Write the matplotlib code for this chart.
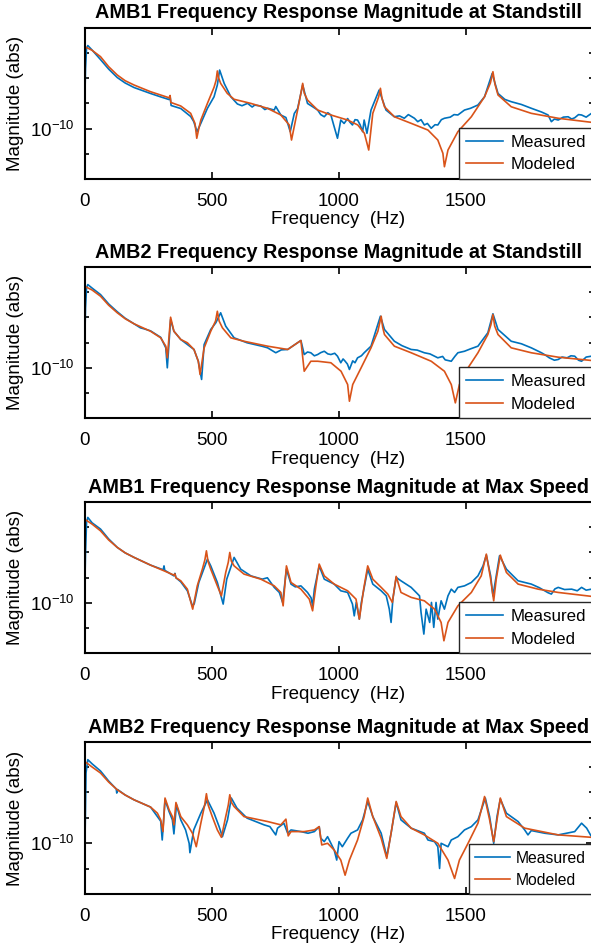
import numpy as np
import matplotlib
matplotlib.use("Agg")
import matplotlib.pyplot as plt
from matplotlib.ticker import FixedLocator, NullFormatter

plt.rcParams['font.family'] = ['Liberation Sans', 'DejaVu Sans']
plt.rcParams['mathtext.fontset'] = 'custom'
plt.rcParams['mathtext.rm'] = 'Liberation Sans'
plt.rcParams['mathtext.it'] = 'Liberation Sans'

# ---- data: (frequency Hz, log10(magnitude / 1e-10)) ----
amb1_ss_meas = [(0, 0.107), (4, 0.474), (8, 0.632), (13, 0.656), (30, 0.620), (63, 0.545), (95, 0.470),
                (129, 0.403), (160, 0.360), (195, 0.324), (260, 0.277), (300, 0.250), (333, 0.229), (337, 0.253),
                (341, 0.182), (379, 0.158),
                (418, 0.095), (430, 0.055), (443, -0.025), (458, 0.041), (484, 0.160), (510, 0.251), (523, 0.344),
                (532, 0.462), (550, 0.356), (576, 0.251), (602, 0.194), (620, 0.180), (642, 0.199), (660, 0.170),
                (670, 0.185), (694, 0.178), (710, 0.150), (721, 0.160), (747, 0.146), (753, 0.174), (773, 0.107),
                (793, 0.087), (810, -0.025), (826, 0.119), (839, 0.158), (859, 0.344), (878, 0.198), (900, 0.170),
                (918, 0.146), (930, 0.110), (944, 0.093), (958, 0.125), (970, 0.107), (983, 0.014), (996, -0.077),
                (1009, 0.067), (1022, 0.040), (1036, 0.079), (1045, 0.050), (1055, 0.028), (1065, 0.070),
                (1075, 0.067), (1085, 0.030), (1095, -0.025), (1101, 0.067), (1112, -0.038), (1128, 0.146),
                (1160, 0.304), (1187, 0.146), (1220, 0.093), (1240, 0.100), (1259, 0.081), (1275, 0.110),
                (1299, 0.081), (1312, 0.054), (1325, 0.070), (1338, 0.028), (1350, 0.040), (1365, 0.002),
                (1380, 0.030), (1391, 0.028), (1405, 0.070), (1417, 0.081), (1440, 0.090), (1455, 0.110),
                (1470, 0.107), (1496, 0.146), (1520, 0.160), (1549, 0.186), (1575, 0.251), (1605, 0.435),
                (1628, 0.277), (1655, 0.230), (1680, 0.212), (1720, 0.190), (1759, 0.160), (1800, 0.130),
                (1825, 0.107), (1838, 0.054), (1850, 0.075), (1865, 0.067), (1885, 0.090), (1904, 0.093),
                (1918, 0.075), (1930, 0.085), (1945, 0.110), (1957, 0.107), (1975, 0.090), (1996, 0.120)]
amb1_ss_mod = [(0, 0.647), (13, 0.635), (30, 0.618), (63, 0.568), (95, 0.489), (129, 0.423), (160, 0.378),
               (195, 0.344), (260, 0.291),
               (333, 0.243), (337, 0.261), (340, 0.206), (379, 0.178), (418, 0.120), (435, 0.040), (442, -0.077),
               (450, 0.0), (458, 0.067), (484, 0.199), (510, 0.326), (518, 0.380), (523, 0.455), (528, 0.400),
               (536, 0.357), (562, 0.278),
               (589, 0.231), (654, 0.199), (720, 0.160), (773, 0.107), (806, 0.028), (815, -0.091), (839, 0.146),
               (852, 0.280), (859, 0.357), (865, 0.280), (878, 0.225), (918, 0.146), (970, 0.107), (1036, 0.067),
               (1076, 0.028),
               (1102, -0.038), (1119, -0.170), (1135, 0.120), (1158, 0.250), (1165, 0.318), (1171, 0.240),
               (1181, 0.172), (1220, 0.093),
               (1286, 0.041), (1352, -0.012), (1391, -0.091), (1411, -0.196), (1417, -0.302), (1431, -0.170),
               (1470, -0.025), (1523, 0.093), (1575, 0.251), (1598, 0.360), (1608, 0.449), (1616, 0.350),
               (1628, 0.265), (1680, 0.172),
               (1759, 0.120), (1865, 0.081), (1996, 0.049)]

amb2_ss_meas = [(0, 0.119), (4, 0.474), (8, 0.632), (13, 0.658), (30, 0.630), (63, 0.579), (95, 0.505),
                (129, 0.443), (160, 0.392),
                (195, 0.348), (220, 0.316), (235, 0.308), (260, 0.292), (300, 0.241), (320, 0.158), (326, 0.0),
                (339, 0.382), (352, 0.289), (379, 0.224), (431, 0.145), (448, 0.052), (461, -0.092), (471, 0.184),
                (497, 0.303), (517, 0.356), (536, 0.435), (556, 0.329), (589, 0.237), (640, 0.198), (700, 0.170),
                (721, 0.158), (753, 0.119), (775, 0.142), (800, 0.145), (852, 0.216), (865, 0.105), (878, 0.125),
                (891, 0.119), (905, 0.095), (918, 0.105), (930, 0.120), (944, 0.131), (958, 0.110), (970, 0.105),
                (985, 0.115), (996, 0.092), (1009, 0.040), (1018, 0.070), (1025, 0.055), (1035, 0.030),
                (1043, -0.013), (1056, 0.055), (1065, 0.040), (1075, 0.079), (1090, 0.095), (1101, 0.119),
                (1128, 0.171), (1165, 0.408), (1181, 0.303), (1220, 0.210), (1250, 0.175), (1286, 0.145),
                (1310, 0.140), (1338, 0.119), (1360, 0.110), (1391, 0.079), (1410, 0.090), (1420, 0.063),
                (1444, 0.052), (1458, 0.090), (1470, 0.119), (1496, 0.131), (1520, 0.150), (1549, 0.171),
                (1588, 0.277), (1608, 0.427), (1628, 0.303), (1680, 0.210), (1720, 0.190), (1759, 0.158),
                (1799, 0.119), (1815, 0.100), (1830, 0.079), (1850, 0.060), (1865, 0.066), (1880, 0.085),
                (1900, 0.079), (1915, 0.095), (1930, 0.092), (1945, 0.060), (1957, 0.052), (1975, 0.085),
                (1996, 0.092)]
amb2_ss_mod = [(0, 0.645), (30, 0.615), (63, 0.566), (95, 0.495), (129, 0.435), (160, 0.388), (195, 0.348),
               (260, 0.289), (300, 0.237),
               (320, 0.171), (326, 0.079), (339, 0.400), (352, 0.289), (379, 0.224), (405, 0.198), (431, 0.145),
               (448, 0.052), (455, -0.053), (471, 0.158), (497, 0.289), (516, 0.370), (523, 0.447), (530, 0.370),
               (543, 0.316), (576, 0.237),
               (628, 0.210), (721, 0.171), (800, 0.145), (852, 0.216), (865, -0.027), (891, 0.052), (918, 0.052),
               (970, 0.040), (1010, -0.027), (1036, -0.132), (1043, -0.264), (1056, -0.132), (1089, 0.0),
               (1128, 0.158), (1155, 0.289), (1168, 0.408), (1174, 0.320), (1181, 0.263), (1220, 0.171),
               (1286, 0.119),
               (1365, 0.052), (1417, -0.027), (1444, -0.132), (1460, -0.277), (1476, -0.132), (1510, 0.0),
               (1549, 0.119), (1588, 0.263), (1600, 0.340), (1608, 0.421), (1615, 0.330), (1628, 0.263),
               (1680, 0.158), (1759, 0.119),
               (1865, 0.084), (1996, 0.058)]

amb1_max_meas = [(0, 0.003), (4, 0.395), (8, 0.632), (13, 0.675), (30, 0.632), (63, 0.583), (95, 0.505),
                 (129, 0.438), (160, 0.395),
                 (195, 0.359), (260, 0.298), (310, 0.261), (313, 0.292), (316, 0.257), (352, 0.213), (356, 0.233),
                 (360, 0.198), (379, 0.166), (405, 0.095), (425, -0.024), (432, -0.008), (450, 0.161),
                 (484, 0.345), (497, 0.292), (523, 0.161), (546, -0.010), (560, 0.187), (589, 0.359),
                 (615, 0.266), (655, 0.213), (700, 0.187), (720, 0.198), (747, 0.122), (767, 0.082),
                 (780, 0.003), (795, 0.266), (813, 0.148), (830, 0.126), (852, 0.134), (878, 0.082),
                 (892, 0.040), (898, -0.024), (905, 0.108), (924, 0.292), (944, 0.187), (983, 0.148),
                 (1009, 0.095), (1036, 0.082), (1055, -0.010), (1062, -0.103), (1070, 0.003), (1082, -0.129),
                 (1090, 0.003), (1115, 0.266), (1135, 0.148), (1168, 0.095), (1188, 0.055), (1200, -0.050),
                 (1207, -0.155), (1214, 0.029), (1227, 0.201), (1246, 0.174), (1286, 0.122), (1319, 0.055),
                 (1325, -0.076), (1336, -0.247), (1345, -0.050), (1359, -0.155), (1366, 0.003), (1375, -0.194),
                 (1384, 0.003), (1391, -0.129), (1404, 0.016), (1417, -0.050), (1431, 0.055), (1444, 0.108),
                 (1457, 0.082), (1470, 0.122), (1496, 0.134), (1523, 0.161), (1549, 0.213), (1569, 0.292),
                 (1582, 0.377), (1599, 0.213), (1608, 0.055), (1621, 0.213), (1634, 0.372), (1661, 0.266),
                 (1707, 0.174), (1759, 0.148), (1790, 0.120), (1812, 0.095), (1825, 0.080), (1838, 0.069),
                 (1852, 0.110), (1865, 0.122), (1890, 0.105), (1918, 0.108), (1940, 0.095), (1957, 0.122),
                 (1975, 0.100), (1996, 0.108)]
amb1_max_mod = [(0, 0.662), (30, 0.622), (63, 0.569), (95, 0.497), (129, 0.438), (160, 0.395), (195, 0.359),
                (260, 0.298), (313, 0.253),
                (352, 0.219), (356, 0.229), (360, 0.198), (379, 0.174), (405, 0.108), (426, -0.050), (444, 0.134),
                (464, 0.266), (474, 0.340), (480, 0.411), (486, 0.330), (497, 0.266), (523, 0.134), (539, 0.055),
                (556, 0.240), (566, 0.320), (572, 0.398),
                (578, 0.330), (589, 0.292), (628, 0.227), (694, 0.187), (747, 0.134), (773, 0.082), (782, -0.024),
                (795, 0.292),
                (813, 0.161), (852, 0.108), (885, 0.029), (898, -0.063), (911, 0.134), (924, 0.306), (944, 0.213),
                (983, 0.148), (1036, 0.095), (1069, 0.029), (1082, -0.129), (1099, 0.108), (1115, 0.292),
                (1135, 0.187), (1168, 0.122), (1194, 0.069), (1212, 0.003), (1227, 0.209), (1246, 0.082),
                (1286, 0.043), (1338, 0.016), (1378, -0.050), (1404, -0.155), (1415, -0.300), (1431, -0.155),
                (1470, -0.024), (1523, 0.082), (1562, 0.213), (1582, 0.385), (1599, 0.187), (1611, 0.016),
                (1621, 0.187), (1637, 0.377), (1661, 0.240), (1707, 0.148), (1786, 0.108), (1865, 0.082),
                (1996, 0.051)]

amb2_max_meas = [(0, -0.237), (3, 0.158), (6, 0.553), (13, 0.658), (30, 0.625), (63, 0.569), (95, 0.490),
                 (125, 0.427),
                 (127, 0.395), (130, 0.423), (160, 0.380), (195, 0.342), (260, 0.285), (300, 0.174), (306, 0.026),
                 (317, 0.342),
                 (333, 0.249), (346, 0.184), (352, 0.074), (362, 0.303), (379, 0.184), (398, 0.105), (412, 0.0),
                 (415, -0.074), (430, 0.105), (458, 0.237), (484, 0.342), (510, 0.237), (530, 0.131), (543, 0.052),
                 (563, 0.184), (578, 0.356), (600, 0.277), (640, 0.198), (707, 0.145), (730, 0.131), (753, 0.066),
                 (760, 0.119), (785, 0.158), (800, 0.079), (813, 0.105), (852, 0.092), (880, 0.079), (905, 0.092),
                 (924, 0.131), (930, 0.040), (944, 0.013), (957, 0.052), (970, 0.0), (983, -0.053), (993, -0.132),
                 (1002, 0.013), (1015, -0.027), (1036, 0.040), (1049, 0.079), (1075, 0.105), (1095, 0.184),
                 (1115, 0.329), (1135, 0.210), (1168, 0.079), (1190, -0.106), (1207, 0.079), (1227, 0.321),
                 (1246, 0.184), (1286, 0.119), (1338, 0.079), (1352, 0.026), (1378, 0.013), (1391, -0.027),
                 (1398, -0.198), (1404, 0.0), (1431, -0.027), (1444, 0.026), (1470, 0.052), (1496, 0.105),
                 (1523, 0.131), (1549, 0.184), (1578, 0.356), (1595, 0.210), (1611, 0.0), (1624, 0.210),
                 (1637, 0.348), (1661, 0.237), (1707, 0.171), (1733, 0.105), (1746, 0.066), (1759, 0.100),
                 (1812, 0.079), (1865, 0.066), (1930, 0.092), (1957, 0.158), (1977, 0.119), (1996, 0.052)]
amb2_max_mod = [(0, 0.645), (30, 0.600), (63, 0.553), (95, 0.482), (129, 0.421), (160, 0.380), (195, 0.342),
                (260, 0.285), (287, 0.237),
                (300, 0.184), (309, 0.092), (317, 0.356), (333, 0.263), (346, 0.210), (352, 0.145), (360, 0.321),
                (379, 0.210), (405, 0.145), (425, 0.079), (440, -0.027), (458, 0.158), (473, 0.300), (480, 0.390),
                (487, 0.300), (503, 0.210),
                (523, 0.105), (539, 0.047), (556, 0.210), (566, 0.300), (572, 0.382), (579, 0.320), (589, 0.289),
                (628, 0.210), (721, 0.171),
                (773, 0.145), (793, 0.190), (802, 0.058), (813, 0.092), (865, 0.092), (905, 0.105), (924, 0.131),
                (934, -0.013), (957, 0.0), (983, -0.053), (1009, -0.132), (1026, -0.251), (1043, -0.132),
                (1075, 0.026), (1101, 0.210), (1115, 0.356), (1135, 0.210), (1168, 0.040), (1190, -0.119),
                (1207, 0.079), (1227, 0.329), (1246, 0.210), (1286, 0.119), (1338, 0.066), (1391, 0.0),
                (1431, -0.132), (1457, -0.277), (1476, -0.132), (1510, 0.0), (1549, 0.158), (1575, 0.368),
                (1595, 0.184), (1611, 0.013), (1624, 0.184), (1637, 0.356), (1661, 0.210), (1733, 0.119),
                (1865, 0.066), (1996, 0.047)]

titles = ["AMB1 Frequency Response Magnitude at Standstill",
          "AMB2 Frequency Response Magnitude at Standstill",
          "AMB1 Frequency Response Magnitude at Max Speed",
          "AMB2 Frequency Response Magnitude at Max Speed"]
series = [(amb1_ss_meas, amb1_ss_mod), (amb2_ss_meas, amb2_ss_mod),
          (amb1_max_meas, amb1_max_mod), (amb2_max_meas, amb2_max_mod)]
xticks = [0, 500, 1000, 1500]
legend_labels = ["Measured", "Modeled"]
REF = 1e-10

C_MEAS = "#0072BD"
C_MOD = "#D95319"

W, H = 591, 949
fig = plt.figure(figsize=(W / 100, H / 100), dpi=100)

# panel (top, bottom) in pixels
panels = [(28, 179), (267.3, 418.3), (502.3, 653.3), (742.3, 894)]
left_px, right_px = 84.5, 592.5
leg_fs = [12.2, 12.2, 12.2, 11.3]

for i, ((top, bot), title, (meas, mod)) in enumerate(zip(panels, titles, series)):
    ax = fig.add_axes([left_px / W, 1 - bot / H, (right_px - left_px) / W, (bot - top) / H])
    fm, vm = np.array(meas).T
    fo, vo = np.array(mod).T
    ax.plot(fm, REF * 10 ** vm, color=C_MEAS, lw=1.2, label=legend_labels[0])
    ax.plot(fo, REF * 10 ** vo, color=C_MOD, lw=1.2, label=legend_labels[1])
    ax.set_yscale('log')
    ax.set_xlim(0, 2000)
    ax.set_ylim(REF * 10 ** -0.399, REF * 10 ** 0.7945)
    ax.yaxis.set_major_locator(FixedLocator([REF]))
    ax.set_yticklabels([r'$\mathregular{10^{-10}}$'])
    ax.yaxis.set_minor_locator(FixedLocator([REF * 10 ** k for k in (-0.2, 0.2, 0.4, 0.6)]))
    ax.yaxis.set_minor_formatter(NullFormatter())
    ax.set_xticks(xticks)
    ax.set_xticklabels([str(t) for t in xticks])
    ax.xaxis.set_minor_locator(FixedLocator([]))
    ax.tick_params(which='both', direction='in', top=True, right=True, colors='black',
                   labelsize=13.5, width=1.2)
    ax.tick_params(which='major', length=5)
    ax.tick_params(axis='x', which='major', pad=10)
    ax.tick_params(axis='y', which='major', pad=7)
    ax.tick_params(which='minor', length=3)
    for s in ax.spines.values():
        s.set_linewidth(1.5)
        s.set_color('black')
    ax.set_title(title, fontsize=14.3, fontweight='bold', pad=7)
    ax.set_ylabel("Magnitude (abs)", fontsize=13.5, labelpad=4)
    ax.set_xlabel("Frequency  (Hz)", fontsize=13.5, labelpad=1)
    leg = ax.legend(loc='lower right', bbox_to_anchor=(1.0, 0.0), borderaxespad=0.0,
                    fancybox=False, framealpha=1, edgecolor='#262626', fontsize=leg_fs[i],
                    handlelength=2.2, handletextpad=0.4, borderpad=0.4, labelspacing=0.45)
    leg.get_frame().set_linewidth(1.0)

fig.savefig("out.png", dpi=100)
